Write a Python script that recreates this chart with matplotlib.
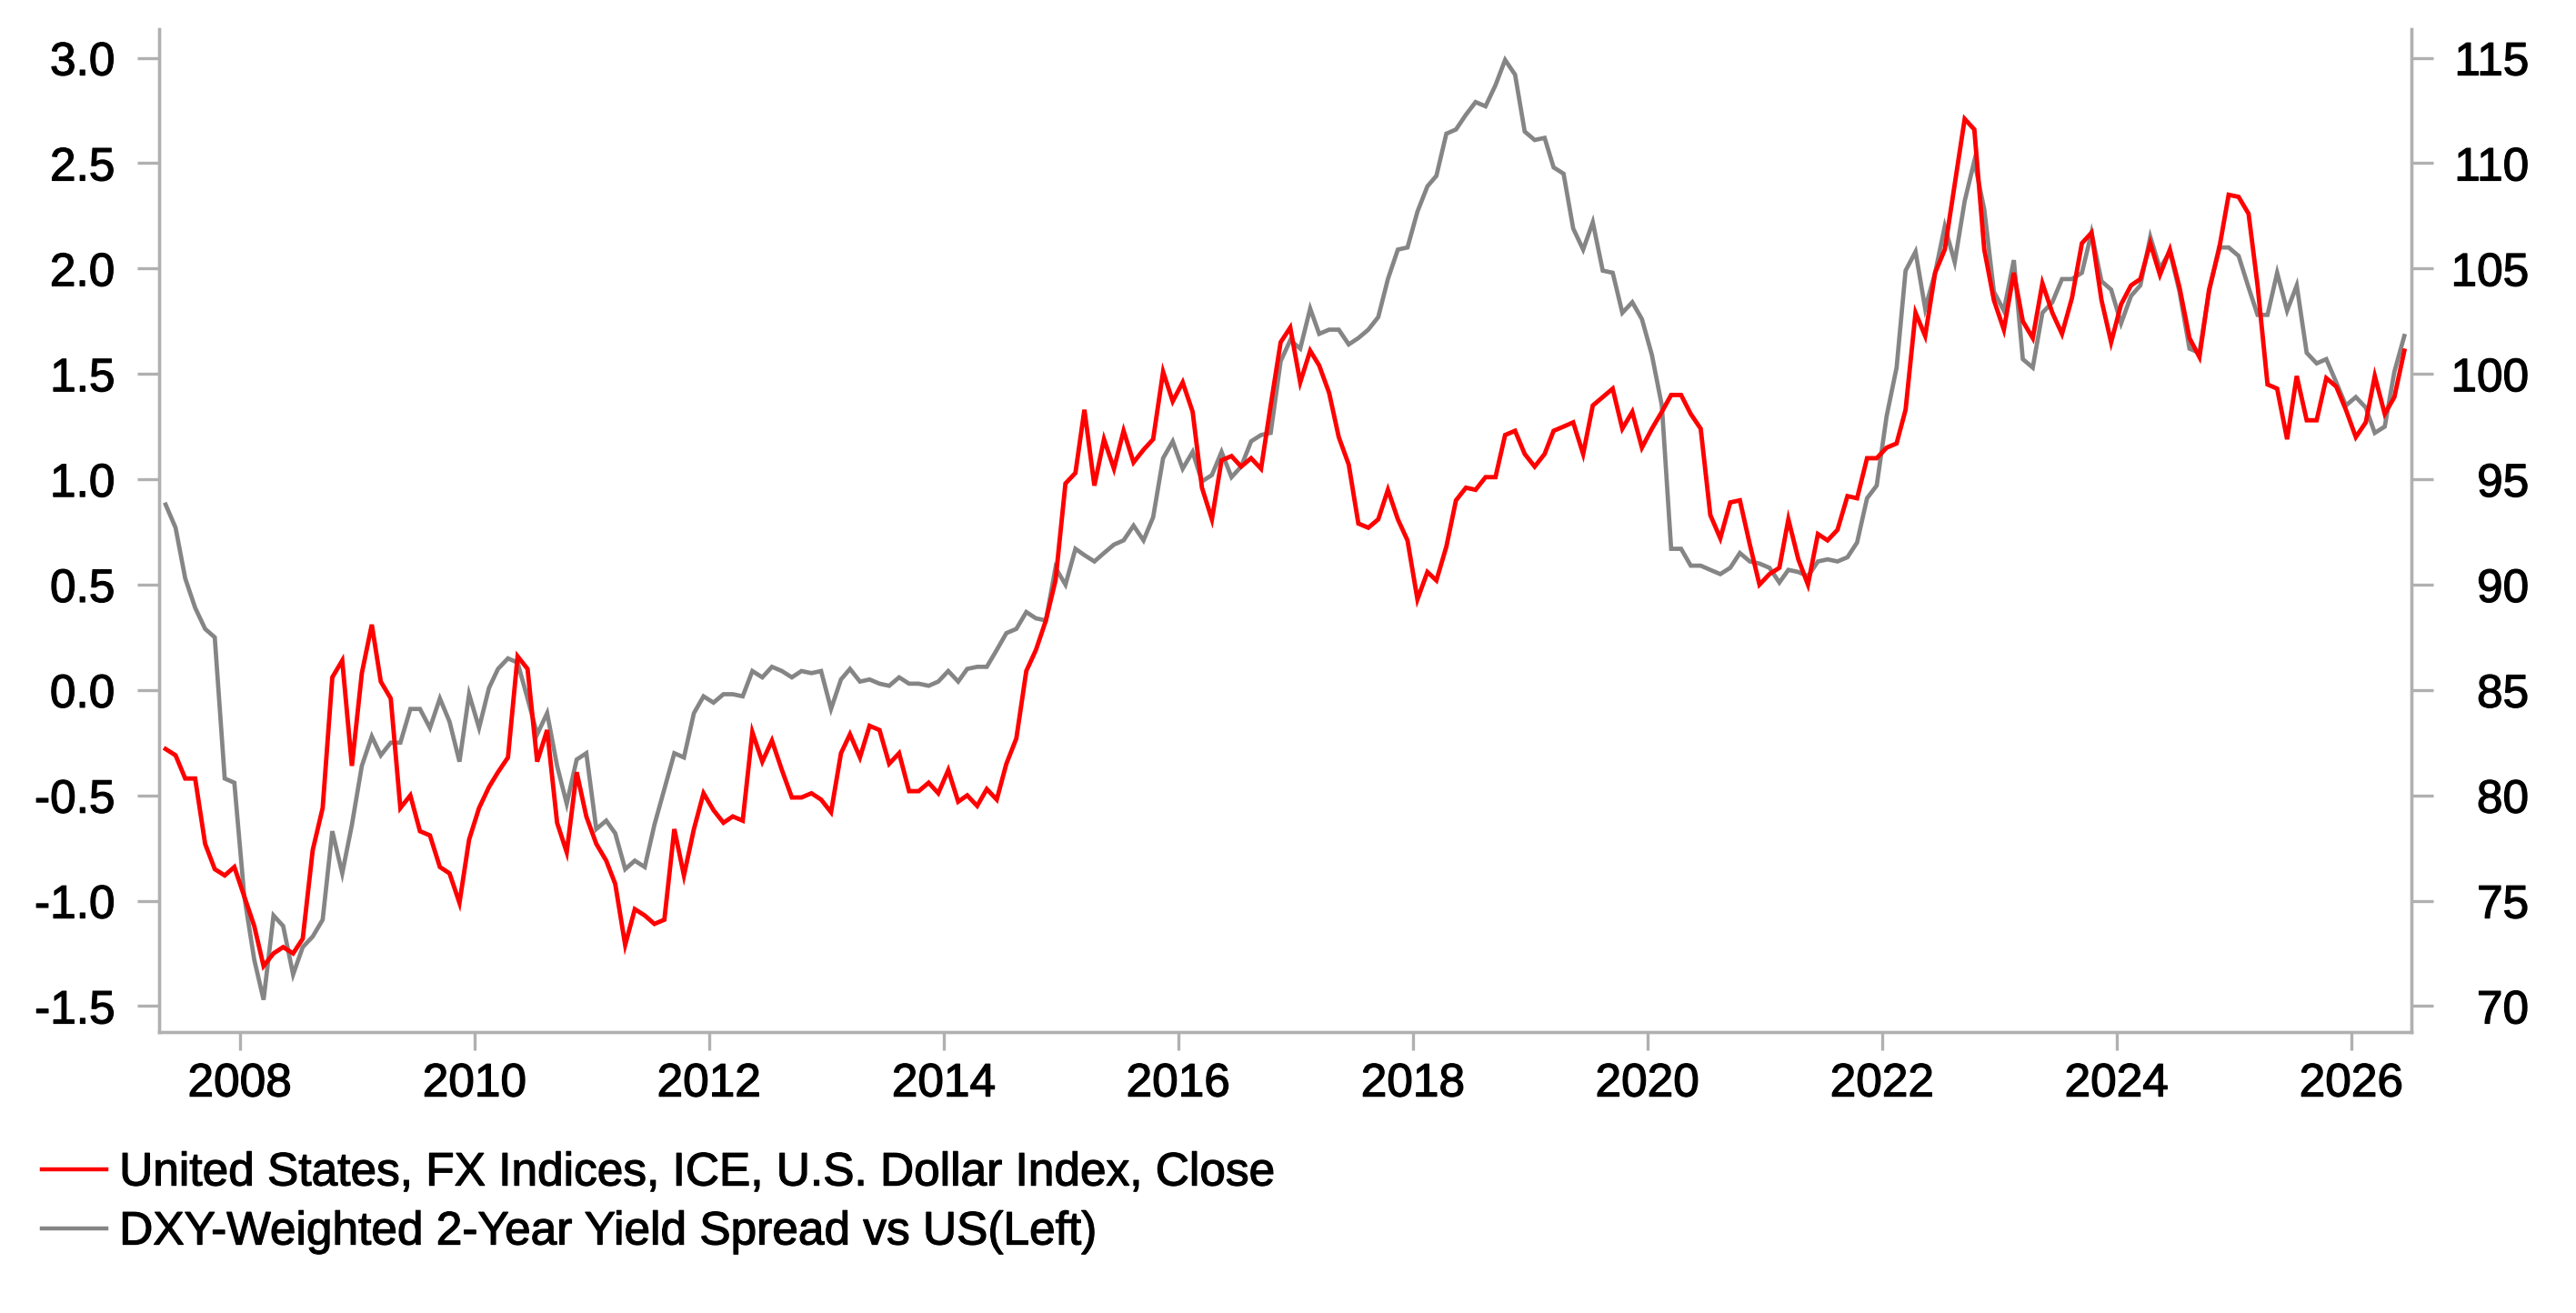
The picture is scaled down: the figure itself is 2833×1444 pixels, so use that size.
import numpy as np
import pandas as pd
import matplotlib
matplotlib.use("Agg")
import matplotlib.pyplot as plt
import matplotlib.dates as mdates
import matplotlib.patheffects as pe
from matplotlib.lines import Line2D

plt.rcParams['font.family'] = ['Liberation Sans', 'DejaVu Sans']
plt.rcParams['axes.unicode_minus'] = False

# Monthly observations, May 2007 .. Jun 2026
start_month = "2007-05-01"

# DXY-weighted 2-year yield spread vs US (left axis)
spread = [
    0.88, 0.77, 0.53, 0.39, 0.29, 0.25, -0.42, -0.44, -0.98, -1.28,
    -1.47, -1.07, -1.12, -1.35, -1.22, -1.17, -1.09, -0.67, -0.87, -0.64,
    -0.36, -0.22, -0.31, -0.25, -0.25, -0.09, -0.09, -0.18, -0.04, -0.15,
    -0.34, -0.02, -0.18, 0.01, 0.10, 0.15, 0.13, -0.04, -0.21, -0.11,
    -0.36, -0.54, -0.33, -0.30, -0.66, -0.62, -0.68, -0.85, -0.81, -0.84,
    -0.64, -0.47, -0.30, -0.32, -0.11, -0.03, -0.06, -0.02, -0.02, -0.03,
    0.09, 0.06, 0.11, 0.09, 0.06, 0.09, 0.08, 0.09, -0.09, 0.05,
    0.10, 0.04, 0.05, 0.03, 0.02, 0.06, 0.03, 0.03, 0.02, 0.04,
    0.09, 0.04, 0.10, 0.11, 0.11, 0.19, 0.27, 0.29, 0.37, 0.34,
    0.33, 0.58, 0.50, 0.67, 0.64, 0.61, 0.65, 0.69, 0.71, 0.78,
    0.71, 0.82, 1.10, 1.18, 1.05, 1.13, 0.99, 1.02, 1.13, 1.01,
    1.06, 1.18, 1.21, 1.22, 1.56, 1.66, 1.62, 1.81, 1.69, 1.71,
    1.71, 1.64, 1.67, 1.71, 1.77, 1.95, 2.09, 2.10, 2.27, 2.39,
    2.44, 2.64, 2.66, 2.73, 2.79, 2.77, 2.87, 2.99, 2.92, 2.65,
    2.61, 2.62, 2.48, 2.45, 2.19, 2.09, 2.22, 1.99, 1.98, 1.79,
    1.84, 1.76, 1.59, 1.35, 0.67, 0.67, 0.59, 0.59, 0.57, 0.55,
    0.58, 0.65, 0.61, 0.60, 0.58, 0.51, 0.57, 0.56, 0.54, 0.61,
    0.62, 0.61, 0.63, 0.70, 0.91, 0.97, 1.30, 1.53, 1.99, 2.08,
    1.81, 1.98, 2.20, 2.03, 2.32, 2.51, 2.28, 1.89, 1.80, 2.04,
    1.57, 1.53, 1.79, 1.84, 1.95, 1.95, 1.98, 2.17, 1.94, 1.90,
    1.74, 1.87, 1.92, 2.15, 2.00, 2.08, 1.89, 1.62, 1.60, 1.89,
    2.10, 2.10, 2.06, 1.91, 1.78, 1.78, 1.98, 1.80, 1.92, 1.60,
    1.55, 1.57, 1.46, 1.35, 1.39, 1.34, 1.22, 1.25, 1.51, 1.68,
]

# ICE U.S. Dollar Index, month close (right axis)
dxy = [
    82.2, 81.9, 80.8, 80.8, 77.7, 76.5, 76.2, 76.6, 75.2, 73.8,
    71.9, 72.5, 72.8, 72.5, 73.2, 77.4, 79.4, 85.6, 86.4, 81.4,
    85.8, 88.1, 85.4, 84.6, 79.4, 80.0, 78.3, 78.1, 76.6, 76.3,
    74.9, 77.9, 79.4, 80.4, 81.1, 81.8, 86.6, 86.0, 81.6, 83.1,
    78.7, 77.3, 81.1, 79.0, 77.7, 76.9, 75.8, 72.9, 74.6, 74.3,
    73.9, 74.1, 78.4, 76.2, 78.4, 80.1, 79.3, 78.7, 79.0, 78.8,
    83.0, 81.6, 82.6, 81.2, 79.9, 79.9, 80.1, 79.8, 79.2, 82.0,
    82.9, 81.8, 83.3, 83.1, 81.5, 82.0, 80.2, 80.2, 80.6, 80.1,
    81.2, 79.7, 80.0, 79.5, 80.3, 79.8, 81.5, 82.7, 85.9, 86.9,
    88.3, 90.2, 94.8, 95.3, 98.3, 94.7, 96.9, 95.5, 97.3, 95.8,
    96.4, 96.9, 100.1, 98.7, 99.6, 98.2, 94.6, 93.1, 95.9, 96.1,
    95.6, 96.0, 95.5, 98.5, 101.5, 102.2, 99.6, 101.1, 100.4, 99.1,
    97.0, 95.7, 92.9, 92.7, 93.1, 94.5, 93.1, 92.1, 89.3, 90.6,
    90.2, 91.8, 94.0, 94.6, 94.5, 95.1, 95.1, 97.1, 97.3, 96.2,
    95.6, 96.2, 97.3, 97.5, 97.7, 96.2, 98.5, 98.9, 99.3, 97.4,
    98.2, 96.5, 97.4, 98.2, 99.0, 99.0, 98.1, 97.4, 93.3, 92.2,
    93.9, 94.0, 91.9, 90.0, 90.5, 90.8, 93.1, 91.2, 90.0, 92.4,
    92.1, 92.6, 94.2, 94.1, 96.0, 96.0, 96.5, 96.7, 98.3, 102.9,
    101.8, 104.8, 105.9, 109.0, 112.1, 111.6, 105.9, 103.5, 102.1, 104.8,
    102.5, 101.7, 104.3, 102.9, 101.9, 103.6, 106.2, 106.7, 103.5, 101.5,
    103.3, 104.2, 104.5, 106.2, 104.7, 105.9, 104.1, 101.7, 100.8, 104.0,
    105.9, 108.5, 108.4, 107.6, 104.2, 99.5, 99.3, 96.9, 99.9, 97.8,
    97.8, 99.8, 99.4, 98.3, 97.0, 97.7, 99.9, 98.1, 98.9, 101.1,
]

left_ticks = [-1.5, -1.0, -0.5, 0.0, 0.5, 1.0, 1.5, 2.0, 2.5, 3.0]
right_ticks = [70, 75, 80, 85, 90, 95, 100, 105, 110, 115]

dates = pd.date_range(start_month, periods=len(dxy), freq="MS") + pd.Timedelta(days=14)

red = "#ff0000"
grey_line = "#858585"
axis_grey = "#b0b0b0"
fs = 37
heavy = [pe.withStroke(linewidth=0.9, foreground="black")]

fig = plt.figure(figsize=(28.33, 14.44), dpi=100)
ax = fig.add_axes([0.0618, 0.214, 0.8743, 0.7638])
ax2 = ax.twinx()

ax.plot(dates, spread, color=grey_line, lw=3.4, solid_joinstyle="miter")
ax2.plot(dates, dxy, color=red, lw=3.5, solid_joinstyle="miter")

ax.set_xlim(pd.Timestamp("2007-04-25"), pd.Timestamp("2026-07-07"))
ax.set_ylim(-1.623, 3.136)
ax2.set_ylim(68.77, 116.36)

ax.xaxis.set_major_locator(mdates.YearLocator(2))
ax.xaxis.set_major_formatter(mdates.DateFormatter("%Y"))
ax.set_yticks(left_ticks)
ax.set_yticklabels(["%.1f" % v for v in left_ticks])
ax2.set_yticks(right_ticks)
ax2.set_yticklabels([str(v) for v in right_ticks])

for a in (ax, ax2):
    for s in a.spines.values():
        s.set_color(axis_grey)
        s.set_linewidth(2.4)
    a.spines["top"].set_visible(False)

ax.tick_params(axis="x", length=14.5, width=2.4, color=axis_grey, pad=9, labelsize=fs)
ax.tick_params(axis="y", length=17, width=2.4, color=axis_grey, pad=18, labelsize=fs)
ax2.tick_params(axis="y", length=17, width=2.4, color=axis_grey, pad=76, labelsize=fs)
for t in ax2.get_yticklabels():
    t.set_horizontalalignment("right")

# legend below the plot
handles = [Line2D([], [], color=red, lw=3.2),
           Line2D([], [], color=grey_line, lw=3.2)]
labels = ["United States, FX Indices, ICE, U.S. Dollar Index, Close",
          "DXY-Weighted 2-Year Yield Spread vs US(Left)"]
leg = fig.legend(handles, labels, loc="center left", bbox_to_anchor=(0.0162, 0.0841),
                 frameon=False, fontsize=fs, handlelength=1.38, handletextpad=0.28,
                 labelspacing=0.31, borderpad=0, borderaxespad=0)

# slightly heavier glyphs, like the source rendering
texts = ax.get_xticklabels() + ax.get_yticklabels() + ax2.get_yticklabels() + leg.get_texts()
for t in texts:
    t.set_path_effects(heavy)

fig.savefig("out.png", dpi=100)
